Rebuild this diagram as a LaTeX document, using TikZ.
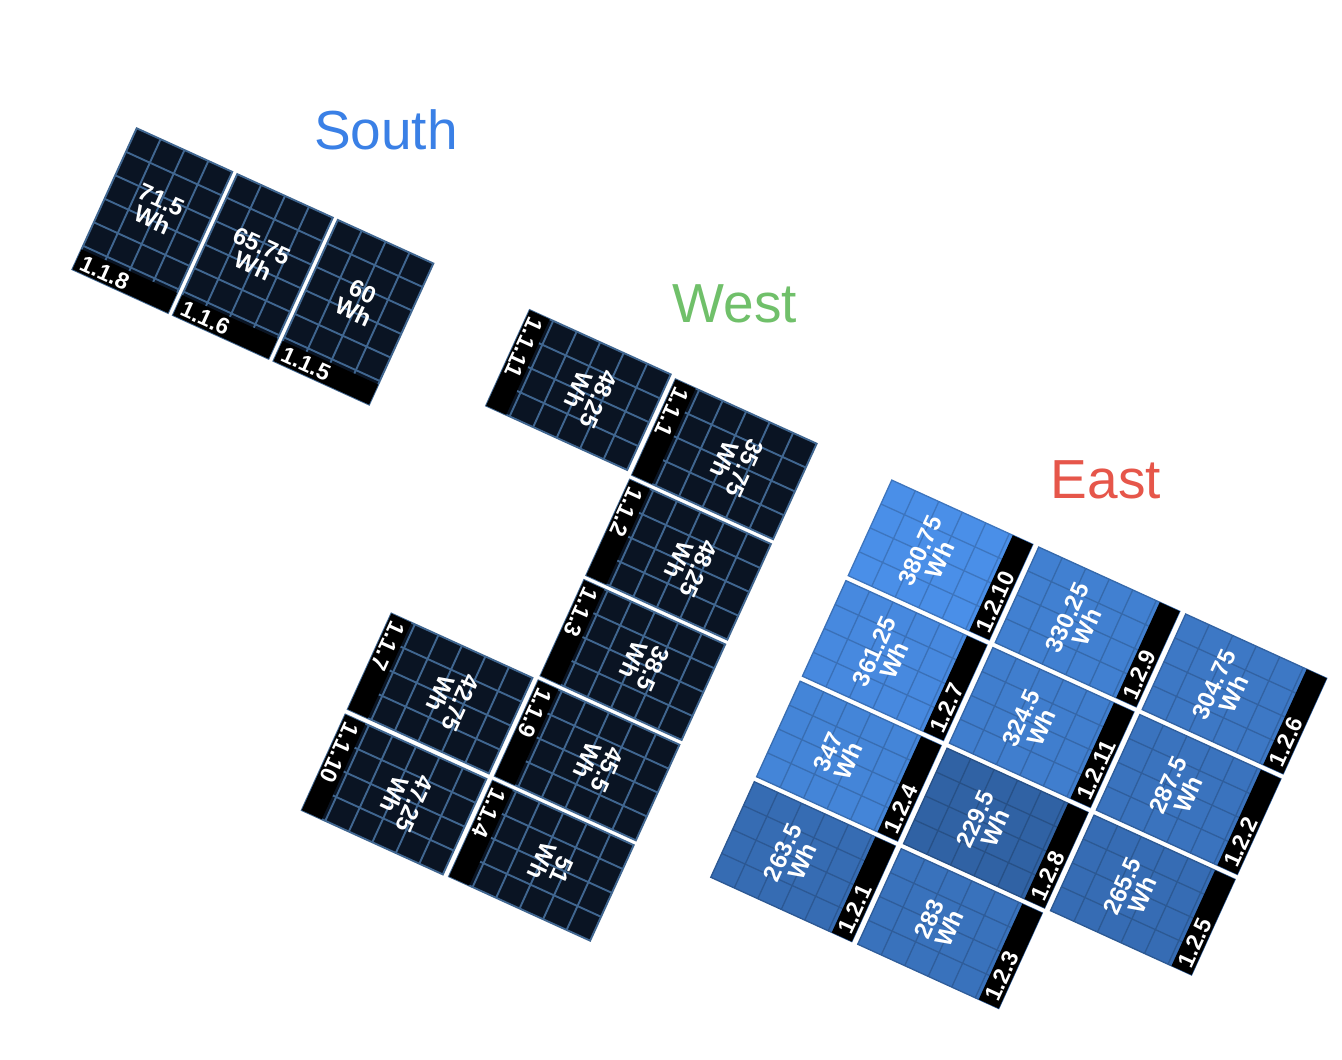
\documentclass[tikz,border=0pt]{standalone}
\usepackage{fontspec}
\setmainfont{Liberation Sans}

\definecolor{cellnavy}{RGB}{10,20,35}
\definecolor{gridsteel}{RGB}{64,102,144}
\definecolor{eastlo}{RGB}{48,98,164}
\definecolor{easthi}{RGB}{74,143,232}
\definecolor{southblue}{RGB}{58,128,230}
\definecolor{westgreen}{RGB}{112,192,106}
\definecolor{eastred}{RGB}{230,86,74}

\tikzset{
  heading/.style={inner sep=0pt, font=\fontsize{55}{60}\selectfont},
  valtext/.style={inner sep=0pt, text=white, align=center, font=\fontsize{24}{22}\selectfont\bfseries},
  idtext/.style={inner sep=0pt, anchor=west, text=white, font=\fontsize{23}{23}\selectfont\bfseries},
  darkgrid/.style={draw=gridsteel, line width=1.9pt},
  bluegrid/.style={draw=pnlfill!82!black, line width=1.3pt},
  upright/.style 2 args={shift={(#1,#2)}},
  cw/.style 2 args={shift={(#1+155,#2)}, rotate=-90},
  ccw/.style 2 args={shift={(#1,#2+105)}, rotate=90},
}

% one module, 105 x 155, id strip at its foot
\newcommand*{\pnl}[5]{%
  \begin{scope}[#1]
    \fill[pnlfill] (0,0) rectangle (105,155);
    \foreach \cx in {1,2,3}{\draw[#2] (\cx*26.25,0) -- (\cx*26.25,155);}
    \foreach \ry in {1,...,5}{\draw[#2] (0,\ry*25.83) -- (105,\ry*25.83);}
    \draw[#2] (0,0) rectangle (105,155);
    \fill[black] (0,133) rectangle (105,155);
    \node[idtext] (id#3) at (5,144.5) {#4};
    \node[valtext] (wh#3) at (52.5,66) {#5\\Wh};
  \end{scope}}

\begin{document}
\begin{tikzpicture}[x=1pt, y=-1pt]
	\path[fill=white, use as bounding box] (0,0) rectangle (1342,1060);

	\node[heading, text=southblue] (south) at (386,130) {South};
	\node[heading, text=westgreen] (west) at (735,304) {West};
	\node[heading, text=eastred] (east) at (1106,480) {East};

	\begin{scope}[shift={(136.7,128.3)}, rotate=-24.5, transform shape]
	%south string
	\colorlet{pnlfill}{cellnavy}
	\foreach \id/\v/\cl in {8/71.5/0,6/65.75/1,5/60/2}{
	\pnl{upright={\cl*110.5}{0}}{darkgrid}{s\id}{1.1.\id}{\v}}

	%west string
	\foreach \id/\v/\a/\b in {11/48.25/433/2.5,1/35.75/594.5/5,2/48.25/594.5/115.3,
	  3/38.5/594.5/225.6,9/45.5/594.5/335.9,4/51/594.5/446.2,7/42.75/433/336,10/47.25/433/447}{
	\pnl{cw={\a}{\b}}{darkgrid}{w\id}{1.1.\id}{\v}}

	%east string, shaded by yield
	\foreach \id/\v/\cl/\rw in {10/380.75/0/0,9/330.25/1/0,6/304.75/2/0,
	  7/361.25/0/1,11/324.5/1/1,2/287.5/2/1,
	  4/347/0/2,8/229.5/1/2,5/265.5/2/2,
	  1/263.5/0/3,3/283/1/3}{
	\pgfmathtruncatemacro{\pct}{(\v-229.5)/1.5125}
	\colorlet{pnlfill}{easthi!\pct!eastlo}
	\pnl{ccw={833+\cl*161.5}{7+\rw*110.5}}{bluegrid}{e\id}{1.2.\id}{\v}}
	\end{scope}
\end{tikzpicture}
\end{document}
